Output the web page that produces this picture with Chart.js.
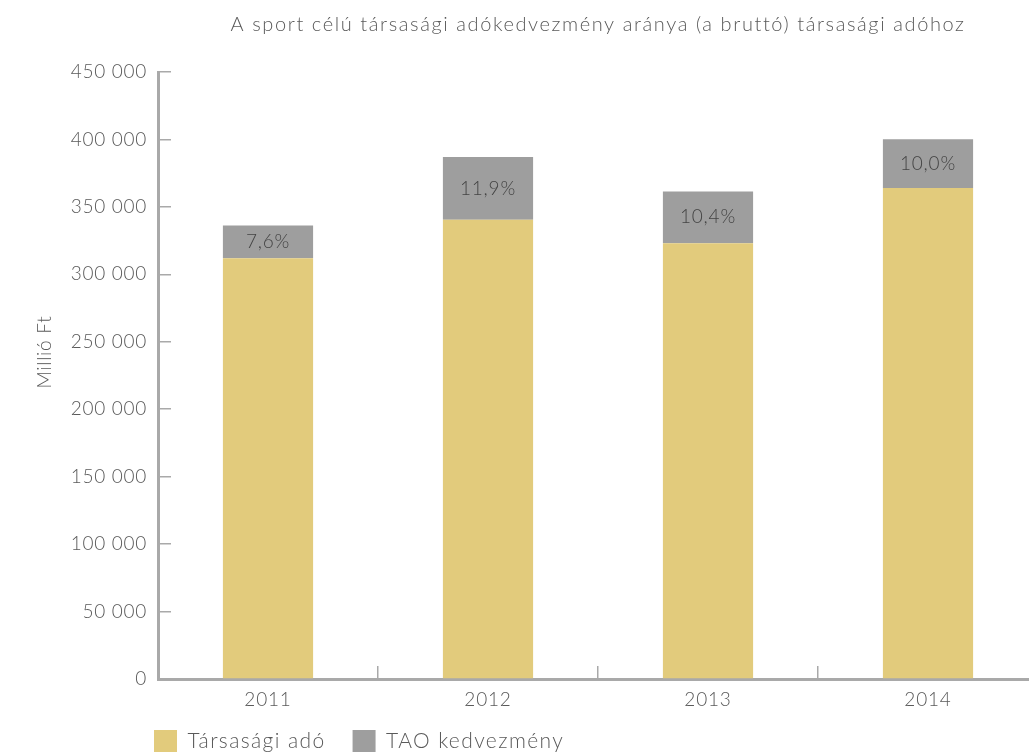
<!DOCTYPE html>
<html>
<head>
<meta charset="utf-8">
<script src="https://cdn.jsdelivr.net/npm/chart.js@4/dist/chart.umd.min.js"></script>
<style>
  html, body { margin: 0; padding: 0; background: #fff; overflow: hidden; }
  #wrap { width: 1040px; height: 755px; }
</style>
</head>
<body>
<div id="wrap"><canvas id="myChart" width="1040" height="755"></canvas></div>
<script>
const years = ['2011', '2012', '2013', '2014'];
const taxValues = [311900, 340400, 323000, 364000];   // Társasági adó
const taoValues = [24300, 46600, 38500, 36200];       // TAO kedvezmény
const taoShare = ['7,6%', '11,9%', '10,4%', '10,0%'];
const yTicks = [0, 50000, 100000, 150000, 200000, 250000, 300000, 350000, 400000, 450000];

const FONT = 'Lato, "Open Sans", sans-serif';
const TEXT = '#5a5a5a';
const AXIS = '#a9a9a9';

function spaced(v) {
  return String(v).replace(/\B(?=(\d{3})+(?!\d))/g, ' ');
}

// run a block's measuring / drawing with wider letter spacing
function widen(block, methods, px) {
  if (!block || block._widened) return;
  block._widened = true;
  methods.forEach(m => {
    const orig = block[m].bind(block);
    block[m] = function (...args) {
      const c = block.ctx || block.chart.ctx;
      const prev = c.letterSpacing;
      c.letterSpacing = px + 'px';
      const r = orig(...args);
      c.letterSpacing = prev;
      return r;
    };
  });
}

const spacing = {
  id: 'spacing',
  beforeLayout(chart) {
    widen(chart.titleBlock, ['draw'], 1.6);
    widen(chart.legend, ['fit', 'draw'], 1.4);
    widen(chart.scales.x, ['draw'], 0.8);
    widen(chart.scales.y, ['draw'], 0.7);
  }
};

// percentage written in the middle of each grey segment
const shareLabels = {
  id: 'shareLabels',
  afterDatasetsDraw(chart) {
    const ctx = chart.ctx;
    const meta = chart.getDatasetMeta(1);
    ctx.save();
    ctx.font = '300 19px ' + FONT;
    ctx.letterSpacing = '0.8px';
    ctx.fillStyle = '#444';
    ctx.textAlign = 'center';
    ctx.textBaseline = 'middle';
    meta.data.forEach((bar, i) => {
      ctx.fillText(taoShare[i], bar.x, (bar.y + bar.base) / 2);
    });
    ctx.restore();
  }
};

// put the legend under the left part of the plot
const legendPlace = {
  id: 'legendPlace',
  afterLayout(chart) {
    chart.legend.left = 127;
    chart.legend.top = 703;
  }
};

const ctx = document.getElementById('myChart').getContext('2d');
const myChart = new Chart(ctx, {
  type: 'bar',
  data: {
    labels: years,
    datasets: [{
      label: 'Társasági adó',
      data: taxValues,
      backgroundColor: '#e2cb7c'
    }, {
      label: 'TAO kedvezmény',
      data: taoValues,
      backgroundColor: '#9e9e9e'
    }]
  },
  options: {
    responsive: false,
    animation: false,
    layout: { padding: { left: 22, right: 2, top: 0, bottom: -23 } },
    datasets: {
      bar: { categoryPercentage: 1, barPercentage: 0.41 }
    },
    plugins: {
      title: {
        display: true,
        text: 'A sport célú társasági adókedvezmény aránya (a bruttó) társasági adóhoz',
        fullSize: false,
        color: TEXT,
        font: { family: FONT, size: 20, weight: '300' },
        padding: { top: 13, bottom: 35 }
      },
      legend: {
        position: 'bottom',
        align: 'start',
        labels: {
          boxWidth: 23,
          boxHeight: 22,
          padding: 27,
          color: TEXT,
          font: { family: FONT, size: 21, weight: '300' }
        }
      },
      tooltip: { enabled: false }
    },
    scales: {
      x: {
        stacked: true,
        grid: {
          offset: true,
          drawOnChartArea: false,
          tickLength: -13,
          color: AXIS,
          lineWidth: 1.5
        },
        border: { color: AXIS, width: 3 },
        ticks: {
          color: TEXT,
          padding: 22,
          font: { family: FONT, size: 19, weight: '300' }
        },
        afterFit(scale) { scale.height = 40; }
      },
      y: {
        stacked: true,
        min: 0,
        max: 450000,
        afterBuildTicks(scale) { scale.ticks = yTicks.map(v => ({ value: v })); },
        grid: {
          drawOnChartArea: false,
          tickLength: -13,
          color: AXIS,
          lineWidth: 1.5
        },
        border: { color: AXIS, width: 3 },
        ticks: {
          color: TEXT,
          padding: 24,
          font: { family: FONT, size: 19, weight: '300' },
          callback: v => spaced(v)
        },
        title: {
          display: true,
          // leading spaces lift the rotated caption a little above centre
          text: '        Millió Ft',
          color: TEXT,
          font: { family: FONT, size: 19, weight: '300' },
          padding: { top: 11, bottom: 0 }
        },
        afterFit(scale) { scale.width = 136; }
      }
    }
  },
  plugins: [spacing, shareLabels, legendPlace]
});
</script>
</body>
</html>
